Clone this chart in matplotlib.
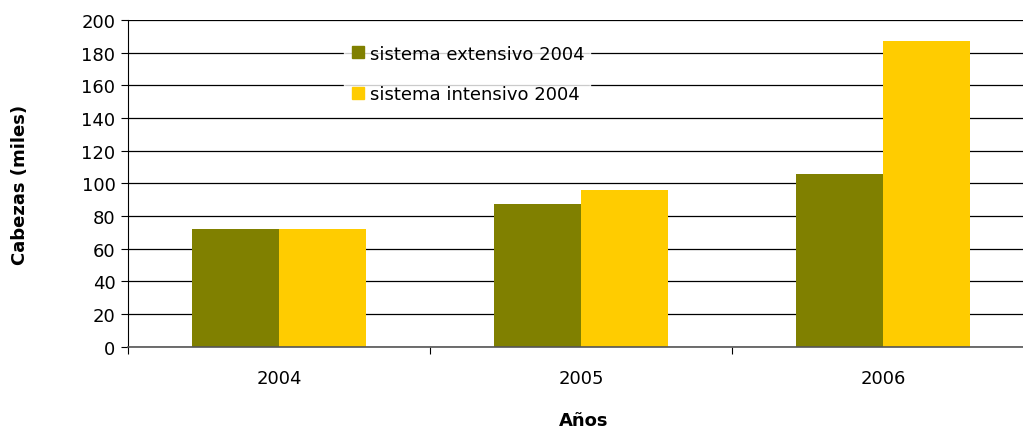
import numpy as np
import matplotlib
matplotlib.use('Agg')
import matplotlib.pyplot as plt
from matplotlib.lines import Line2D

plt.rcParams['font.family'] = ['DejaVu Sans']

# datos
anios = ['2004', '2005', '2006']
extensivo = [72, 87.5, 106]
intensivo = [72, 96, 187]
yticks = [0, 20, 40, 60, 80, 100, 120, 140, 160, 180, 200]

col_ext = '#808000'
col_int = '#FFCC00'

fig = plt.figure(figsize=(10.23, 4.31), dpi=100)
ax = fig.add_axes([0.125, 0.193, 0.875, 0.758])

x = np.arange(len(anios))
w = 0.288
ax.bar(x - w / 2, extensivo, w, color=col_ext, zorder=3)
ax.bar(x + w / 2, intensivo, w, color=col_int, zorder=3)

ax.set_ylim(0, 200)
ax.set_yticks(yticks)
ax.set_xlim(-0.5, 2.463)
ax.set_xticks(x)
ax.set_xticklabels(anios)
ax.set_xticks([-0.5, 0.5, 1.5], minor=True)
ax.tick_params(axis='x', which='major', length=0, pad=16, labelsize=13)
ax.tick_params(axis='x', which='minor', length=5, width=0.8, color='black')
ax.tick_params(axis='y', length=5, width=0.8, labelsize=13, pad=4)

ax.grid(axis='y', color='black', linewidth=0.9, zorder=0)
for s in ['top', 'right']:
    ax.spines[s].set_visible(False)
ax.spines['left'].set_linewidth(0.8)
ax.spines['bottom'].set_color('#555555')
ax.spines['bottom'].set_linewidth(1.2)
ax.spines['bottom'].set_zorder(4)

ax.set_ylabel('Cabezas (miles)', fontsize=13, fontweight='bold')
ax.yaxis.set_label_coords(-0.110, 0.5)
ax.set_xlabel('Años', fontsize=13, fontweight='bold')
ax.xaxis.set_label_coords(0.509, -0.195)

handles = [Line2D([], [], marker='s', linestyle='none', markersize=8,
                  markerfacecolor=c, markeredgecolor=c) for c in (col_ext, col_int)]
leg = fig.legend(handles, ['sistema extensivo 2004', 'sistema intensivo 2004'],
                 loc='center', bbox_to_anchor=(467 / 1023, 1 - 75 / 431),
                 fontsize=13, frameon=True, fancybox=False, labelspacing=1.25,
                 handletextpad=0.15, handlelength=1.0, borderpad=0.3)
leg.get_frame().set_facecolor('white')
leg.get_frame().set_edgecolor('white')

fig.savefig('out.png', dpi=100)
